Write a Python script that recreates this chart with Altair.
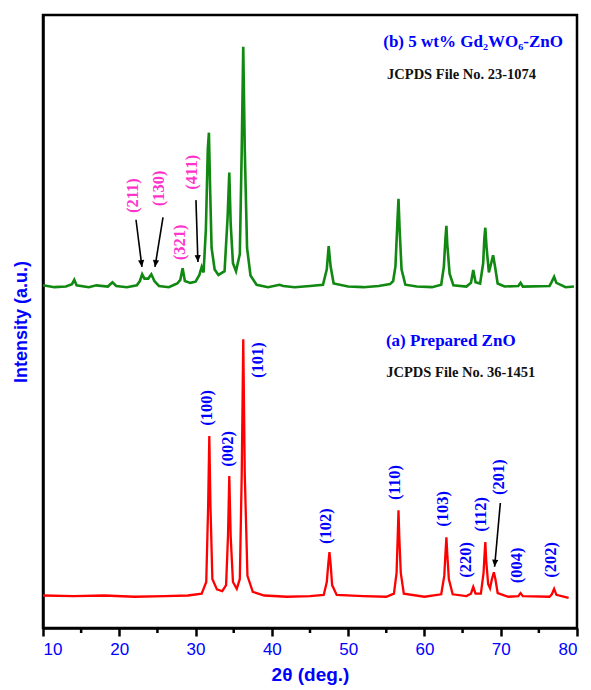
import altair as alt
import pandas as pd

# ---- (a) prepared ZnO pattern (2theta, intensity a.u.) ----
zno_x = [10, 14, 18, 22, 26, 29, 30.8, 31.4, 31.65, 31.8, 31.95, 32.2, 32.8, 33.5, 34.0, 34.25, 34.42, 34.6,
         34.9, 35.4, 35.8, 36.05, 36.25, 36.45, 36.8, 37.5, 39, 42, 45, 46.8, 47.2, 47.4, 47.55, 47.7, 47.9,
         48.5, 52, 55, 56.0, 56.35, 56.5, 56.6, 56.7, 56.9, 57.3, 60, 62.2, 62.6, 62.75, 62.88, 63.0, 63.2,
         63.7, 65.5, 66.1, 66.4, 66.7, 67.4, 67.75, 67.88, 67.98, 68.1, 68.35, 68.6, 68.85, 69.1, 69.3, 69.6,
         71, 72.3, 72.6, 72.9, 76.4, 76.7, 77.0, 77.3, 78.9]
zno_y = [5.3, 5.2, 5.3, 5.1, 5.2, 5.3, 5.6, 7.5, 20, 31.3, 20, 8.0, 6.3, 6.0, 7.0, 15, 24.8, 15,
         7.5, 6.4, 8, 25, 47.1, 25, 8.5, 5.9, 5.3, 5.1, 5.2, 5.4, 7.5, 10.5, 12.4, 10.5, 7.0,
         5.4, 5.2, 5.1, 5.6, 9, 15, 19.2, 15, 9, 5.6, 5.1, 5.5, 8.5, 12, 14.8, 12, 8,
         5.5, 5.2, 5.6, 6.7, 5.6, 5.6, 9, 12, 14.0, 11, 7.2, 6.5, 8, 9.1, 8, 5.7,
         5.1, 5.2, 5.7, 5.2, 5.1, 5.5, 6.4, 5.4, 4.9]

# ---- (b) 5 wt% Gd2WO6-ZnO pattern ----
gd_x = [10, 11.5, 13, 13.8, 14.1, 14.4, 16, 17, 18.5, 19.1, 19.6, 21, 22.3, 22.7, 23.0, 23.3, 23.8, 24.2,
        24.6, 25.2, 26.5, 27.2, 27.6, 28.0, 28.3, 28.6, 29.3, 30.0, 30.5, 30.8, 31.05, 31.35, 31.6, 31.75,
        31.9, 32.1, 32.5, 33.0, 33.8, 34.2, 34.42, 34.6, 34.9, 35.3, 35.8, 36.05, 36.25, 36.45, 36.75, 37.2,
        38.0, 39.5, 41, 41.5, 43, 45, 46.7, 47.2, 47.45, 47.7, 48.1, 50, 52, 54, 55.5, 55.9, 56.2, 56.45,
        56.6, 56.75, 57.0, 57.5, 59, 61, 62.2, 62.55, 62.75, 62.88, 63.0, 63.3, 63.8, 65.5, 66.1, 66.4,
        66.7, 67.3, 67.7, 67.85, 67.98, 68.15, 68.45, 68.75, 69.0, 69.25, 69.6, 70.5, 72.3, 72.6, 72.9,
        76.4, 76.7, 77.0, 77.3, 78.5, 79.6]
gd_y = [55.9, 55.6, 55.7, 56.1, 56.8, 55.9, 55.6, 55.9, 55.7, 56.4, 55.8, 55.6, 55.9, 56.6, 57.7, 57.0, 57.0, 57.7,
        56.6, 55.8, 55.6, 56.0, 56.2, 56.8, 58.7, 56.6, 56.3, 56.5, 57.6, 58.9, 58.0, 65, 78, 80.8,
        72, 62, 58.5, 57.6, 58.2, 67, 74.3, 66, 59.5, 58.2, 61, 78, 94.8, 78, 62, 57.5,
        56.0, 55.6, 56.0, 55.8, 55.6, 55.8, 56.0, 58.5, 62.3, 59, 56.2, 55.7, 55.6, 55.8, 56.1, 56.6, 59, 66,
        70.0, 65, 58.5, 56.0, 55.7, 55.6, 56.0, 59, 63.5, 65.6, 62.5, 57.8, 55.9, 55.7, 56.3, 58.4,
        56.4, 56.2, 59.5, 63.5, 65.3, 62, 58.0, 59.5, 60.8, 59, 56.2, 55.7, 55.8, 56.3, 55.7,
        55.8, 56.5, 57.3, 56.3, 55.6, 55.7]

# ---- peak labels ----
zno_hkl = ["(100)", "(002)", "(101)", "(102)", "(110)", "(103)", "(220)", "(112)", "(201)", "(004)", "(202)"]
zno_lab_x = [31.46, 34.3, 38.2, 47.1, 56.1, 62.4, 65.4, 67.4, 69.8, 72.2, 76.6]
zno_lab_y = [33.0, 26.3, 40.8, 13.7, 20.9, 16.5, 8.2, 15.7, 21.7, 7.3, 8.2]

gd_hkl = ["(211)", "(130)", "(321)", "(411)"]
gd_lab_x = [21.8, 25.2, 28.0, 29.5]
gd_lab_y = [67.7, 68.8, 60.0, 71.5]

# ---- arrows ----
arr_x0 = [22.19, 25.73, 30.05, 69.95]
arr_y0 = [66.6, 67.0, 69.8, 20.4]
arr_x1 = [22.97, 24.68, 30.31, 69.2]
arr_y1 = [58.9, 58.9, 59.7, 10.0]
arr_rot = [353, 9, 358, 5]

# ---- sample captions ----
cap_text = ["(b) 5 wt% Gd\u2082WO\u2086-ZnO", "(a) Prepared ZnO"]
cap_x = [54.6, 54.95]
cap_y = [95.6, 46.8]
ref_text = ["JCPDS File No. 23-1074", "JCPDS File No. 36-1451"]
ref_x = [55.1, 55.0]
ref_y = [90.2, 41.6]

minor_ticks = [15, 25, 35, 45, 55, 65, 75]

BLUE = "#0000ff"
PINK = "#ff33cc"
W, H = 534, 613

xscale = alt.Scale(domain=[10, 80], nice=False, zero=False)
yscale = alt.Scale(domain=[0, 100], nice=False, zero=False)
xaxis = alt.Axis(values=[10, 20, 30, 40, 50, 60, 70, 80], title="2θ (deg.)", format="d",
                 labelFont="Liberation Sans", labelFontSize=17, labelColor=BLUE, labelPadding=5,
                 tickSize=8, tickWidth=2.5, tickColor="black", domainColor="black", domainWidth=2.5,
                 titleFont="Liberation Sans", titleFontSize=19, titleFontWeight="bold", titleColor=BLUE,
                 titlePadding=8, grid=False)
yaxis = alt.Axis(title="Intensity (a.u.)", labels=False, ticks=False, grid=False,
                 domainColor="black", domainWidth=2.5,
                 titleFont="Liberation Sans", titleFontSize=18, titleFontWeight="bold", titleColor=BLUE,
                 titlePadding=13)

def X(f):
    return alt.X(f, type="quantitative", scale=xscale, axis=xaxis)

def Y(f):
    return alt.Y(f, type="quantitative", scale=yscale, axis=yaxis)

zno_df = pd.DataFrame({"x": zno_x, "y": zno_y})
gd_df = pd.DataFrame({"x": gd_x, "y": gd_y})

red = alt.Chart(zno_df).mark_line(color="#ff0000", strokeWidth=2.3).encode(x=X("x"), y=Y("y"))
green = alt.Chart(gd_df).mark_line(color="#118811", strokeWidth=2.6).encode(x=X("x"), y=Y("y"))

zlab = alt.Chart(pd.DataFrame({"x": zno_lab_x, "y": zno_lab_y, "t": zno_hkl})).mark_text(
    angle=270, align="left", baseline="middle", font="Liberation Serif", fontWeight="bold",
    fontSize=16.5, color=BLUE).encode(x=X("x"), y=Y("y"), text="t:N")
glab = alt.Chart(pd.DataFrame({"x": gd_lab_x, "y": gd_lab_y, "t": gd_hkl})).mark_text(
    angle=270, align="left", baseline="middle", font="Liberation Serif", fontWeight="bold",
    fontSize=16.5, color=PINK).encode(x=X("x"), y=Y("y"), text="t:N")

arr_df = pd.DataFrame({"x0": arr_x0, "y0": arr_y0, "x1": arr_x1, "y1": arr_y1, "rot": arr_rot})
shafts = alt.Chart(arr_df).mark_rule(color="black", strokeWidth=1.6).encode(
    x=X("x0"), y=Y("y0"), x2="x1:Q", y2="y1:Q")
heads = alt.Chart(arr_df).mark_point(
    shape="M0,0 L-0.45,-1 L0.45,-1 Z", filled=True, color="black", opacity=1, size=190).encode(
    x=X("x1"), y=Y("y1"), angle=alt.Angle("rot:Q", scale=None))

caps = alt.Chart(pd.DataFrame({"x": cap_x, "y": cap_y, "t": cap_text})).mark_text(
    align="left", baseline="middle", font="Liberation Serif", fontWeight="bold",
    fontSize=17, color=BLUE).encode(x=X("x"), y=Y("y"), text="t:N")
refs = alt.Chart(pd.DataFrame({"x": ref_x, "y": ref_y, "t": ref_text})).mark_text(
    align="left", baseline="middle", font="Liberation Serif", fontWeight="bold",
    fontSize=14.5, color="#111111").encode(x=X("x"), y=Y("y"), text="t:N")

minor = alt.Chart(pd.DataFrame({"x": minor_ticks})).mark_rule(
    color="black", strokeWidth=2.5).encode(x=X("x"), y=alt.value(H), y2=alt.value(H + 5))

chart = alt.layer(red, green, zlab, glab, shafts, heads, caps, refs, minor).properties(
    width=W, height=H,
    autosize=alt.AutoSizeParams(type="none"),
    padding={"left": 43, "top": 15, "right": 14, "bottom": 62},
    background="white",
).configure_view(stroke="black", strokeWidth=2.5)

chart.save("out.html", embed_options={"renderer": "svg", "actions": False})
